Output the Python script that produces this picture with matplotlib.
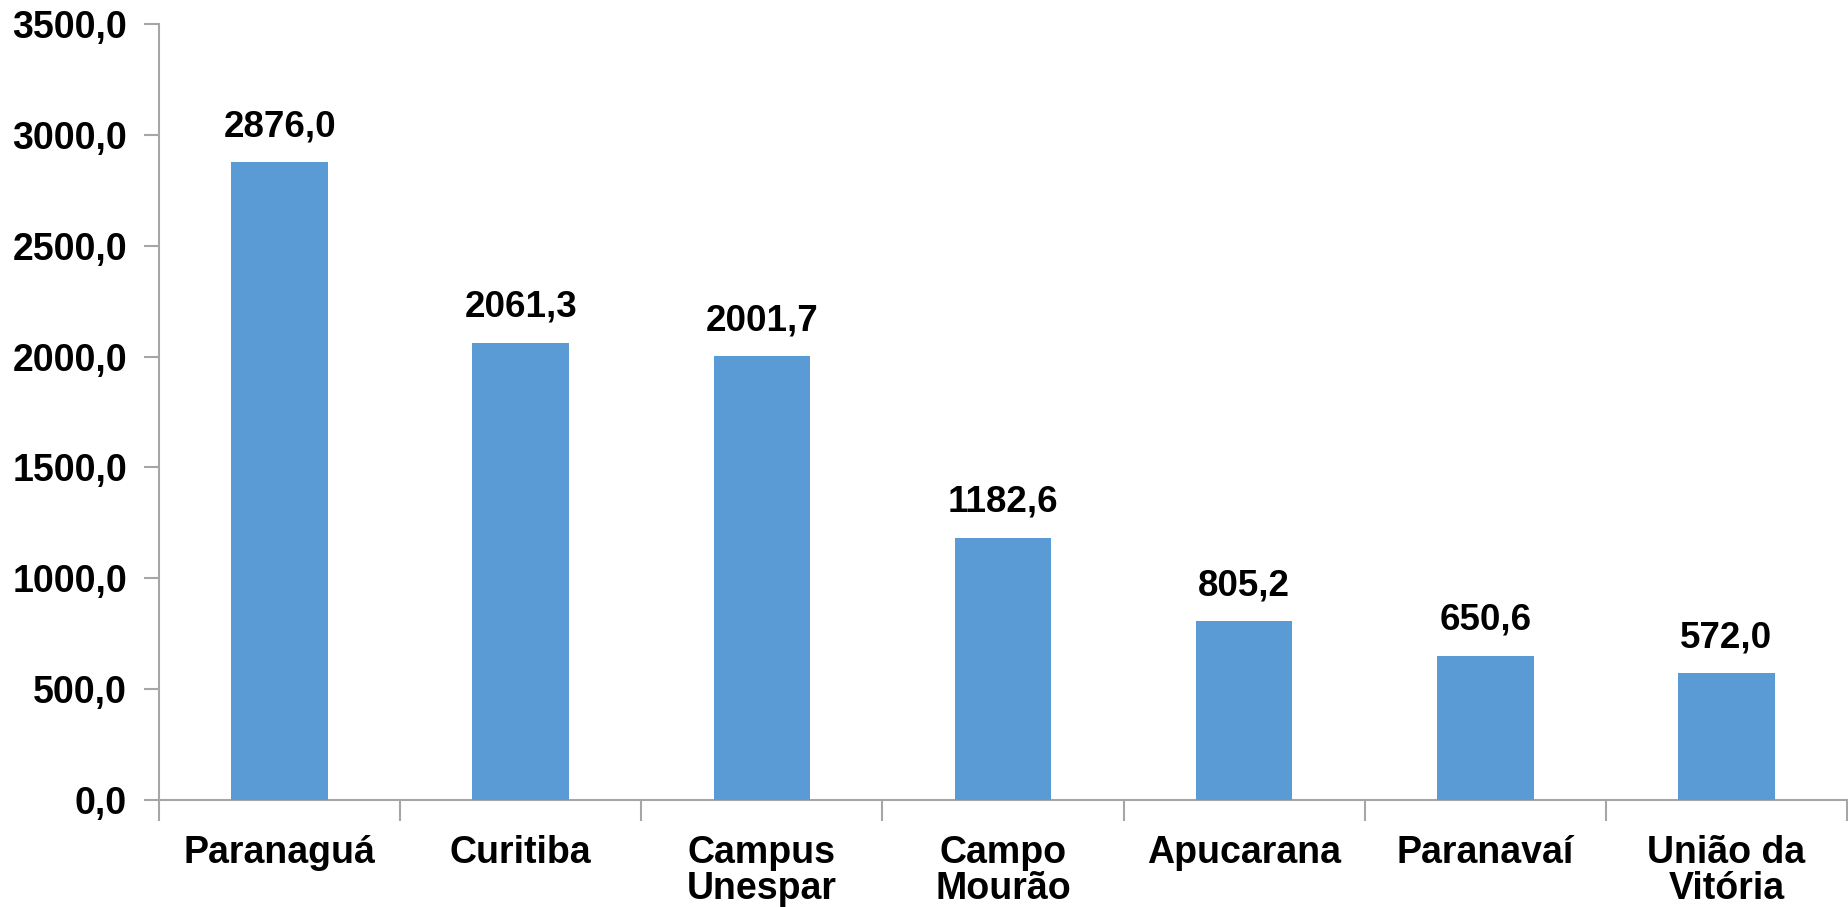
import matplotlib
matplotlib.use("Agg")
import matplotlib.pyplot as plt
import numpy as np

categories = ["Paranaguá", "Curitiba", "Campus\nUnespar", "Campo\nMourão",
              "Apucarana", "Paranavaí", "União da\nVitória"]
values = [2876.0, 2061.3, 2001.7, 1182.6, 805.2, 650.6, 572.0]
yticks = [0, 500, 1000, 1500, 2000, 2500, 3000, 3500]

plt.rcParams['font.family'] = ['Liberation Sans', 'DejaVu Sans']
plt.rcParams['font.weight'] = 'bold'

fig = plt.figure(figsize=(18.48, 9.07), dpi=100)
ax = fig.add_axes([159/1848, 1-800/907, (1847-159)/1848, (800-24)/907])

x = np.arange(len(categories))
bars = ax.bar(x, values, width=0.4, color='#5b9bd5', zorder=3)

for xi, v in zip(x, values):
    ax.annotate(f"{v:.1f}".replace('.', ','), (xi, v), xytext=(0, 13),
                textcoords='offset points', ha='center', va='bottom',
                fontsize=26.5, fontweight='bold', color='black')

ax.set_xlim(-0.5, len(categories) - 0.5)
ax.set_ylim(0, 3500)
ax.set_yticks(yticks)
ax.set_yticklabels([f"{t:.1f}".replace('.', ',') for t in yticks], fontsize=27, fontweight='bold')
ax.set_xticks(x)
ax.set_xticklabels(categories, fontsize=27, fontweight='bold', linespacing=1.0)
ax.set_xticks(np.arange(len(categories) + 1) - 0.5, minor=True)
ax.tick_params(axis='x', which='major', length=0, pad=25)
ax.tick_params(axis='x', which='minor', length=15, width=1.5, color='#a6a6a6', direction='out')
ax.tick_params(axis='y', length=11, width=1.5, color='#a6a6a6', direction='out', pad=12)

for s in ['top', 'right']:
    ax.spines[s].set_visible(False)
for s in ['left', 'bottom']:
    ax.spines[s].set_color('#a6a6a6')
    ax.spines[s].set_linewidth(1.5)

fig.savefig("out.png", dpi=100, facecolor='white')
